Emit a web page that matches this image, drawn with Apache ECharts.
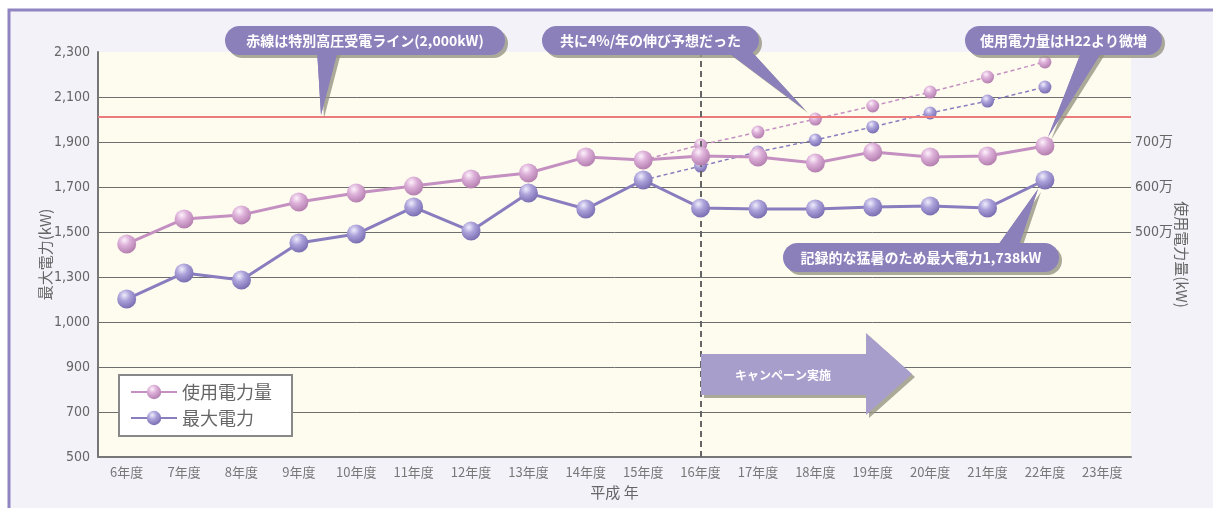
<!DOCTYPE html>
<html>
<head>
<meta charset="utf-8">
<script src="https://cdn.jsdelivr.net/npm/echarts@6/dist/echarts.min.js"></script>
<style>
  html, body { margin: 0; padding: 0; background: #fff; }
  #chart { width: 1213px; height: 508px; }
</style>
</head>
<body>
<div id="chart"></div>
<script>
// 年度 (平成)
var categories = ['6年度', '7年度', '8年度', '9年度', '10年度', '11年度', '12年度', '13年度', '14年度',
  '15年度', '16年度', '17年度', '18年度', '19年度', '20年度', '21年度', '22年度', '23年度'];

// 実績
var usage = [1447, 1558, 1576, 1633, 1673, 1704, 1736, 1762, 1833, 1820, 1838, 1833, 1807, 1856, 1833, 1838, 1882, null];
var peak = [1202, 1318, 1287, 1451, 1491, 1611, 1504, 1673, 1602, 1731, 1607, 1602, 1602, 1611, 1616, 1607, 1731, null];

// 4%/年の伸び予想
var usageForecast = [null, null, null, null, null, null, null, null, null, 1820, 1887, 1944, 2002, 2060, 2122, 2189, 2256, null];
var peakForecast = [null, null, null, null, null, null, null, null, null, 1731, 1793, 1856, 1909, 1967, 2029, 2082, 2144, null];

// 目盛ラベル (元図のまま)
var leftTicks = ['500', '700', '900', '1,000', '1,300', '1,500', '1,700', '1,900', '2,100', '2,300'];
var rightTicks = { 1500: '500万', 1700: '600万', 1900: '700万' };

var redLine = 2011;
var campaignStart = '16年度';

var PINK = '#c48fc1';
var PURPLE = '#897dbf';
var BOX = '#8c80bb';

function sphere(light, mid, dark) {
  return {
    type: 'radial', x: 0.38, y: 0.3, r: 0.75,
    colorStops: [
      { offset: 0, color: light },
      { offset: 0.4, color: mid },
      { offset: 1, color: dark }
    ]
  };
}
var pinkBall = sphere('#fdf1fb', '#dcafd8', '#b07aab');
var purpleBall = sphere('#efedfc', '#aca2da', '#7569ad');

var chart = echarts.init(document.getElementById('chart'));

var numFont = '"Liberation Sans Narrow", "DejaVu Sans Condensed", "Noto Sans CJK JP", sans-serif';
var jpFont = '"Noto Sans CJK JP", sans-serif';

chart.setOption({
  backgroundColor: '#fff',
  animation: false,
  grid: {
    left: 98, right: 82, top: 52, bottom: 51,
    outerBoundsMode: 'none',
    show: true, backgroundColor: '#fefcee', borderWidth: 0
  },
  legend: {
    data: ['使用電力量', '最大電力'],
    orient: 'vertical',
    left: 119, top: 375,
    padding: [8, 20, 9, 11],
    itemGap: 8,
    itemWidth: 46, itemHeight: 18,
    backgroundColor: '#fff',
    borderColor: '#888',
    borderWidth: 2,
    textStyle: { fontSize: 18, color: '#666', fontFamily: jpFont }
  },
  xAxis: {
    type: 'category',
    data: categories,
    boundaryGap: true,
    name: '平成 年',
    nameLocation: 'middle',
    nameGap: 28,
    nameMoveOverlap: false,
    nameTextStyle: { fontSize: 15, color: '#666', fontFamily: jpFont },
    axisLine: { lineStyle: { color: '#777', width: 2 } },
    axisTick: { inside: true, length: 4, lineStyle: { color: '#777' } },
    axisLabel: { color: '#777', fontSize: 13, fontFamily: jpFont, margin: 9 },
    splitLine: { show: false }
  },
  yAxis: [
    {
      type: 'value',
      min: 500, max: 2300, interval: 200,
      name: '最大電力(kW)',
      nameLocation: 'middle',
      nameGap: 45,
      nameMoveOverlap: false,
      nameTextStyle: { fontSize: 15, color: '#666', fontFamily: jpFont },
      axisLine: { show: true, lineStyle: { color: '#777', width: 2 } },
      axisTick: { show: false },
      axisLabel: {
        color: '#666', fontSize: 14, fontFamily: numFont, margin: 8,
        formatter: function (v) { return leftTicks[Math.round((v - 500) / 200)]; }
      },
      splitLine: { show: true, showMaxLine: false, showMinLine: false, lineStyle: { color: '#6e6e6e', width: 1 } }
    },
    {
      type: 'value',
      position: 'right',
      min: 500, max: 2300, interval: 200,
      name: '使用電力量(kW)',
      nameLocation: 'middle',
      nameRotate: -90,
      nameGap: 43,
      nameMoveOverlap: false,
      nameTextStyle: { fontSize: 15, color: '#666', fontFamily: jpFont },
      axisLine: { show: false },
      axisTick: { show: false },
      axisLabel: {
        color: '#666', fontSize: 14, fontFamily: numFont, margin: 4,
        formatter: function (v) { return rightTicks[v] || ''; }
      },
      splitLine: { show: false }
    }
  ],
  series: [
    {
      name: '使用電力量予想',
      type: 'line',
      data: usageForecast,
      symbol: 'circle',
      symbolSize: function (v, p) { return p.dataIndex === 9 ? 0 : 13; },
      lineStyle: { color: PINK, width: 1.5, type: [4, 3] },
      itemStyle: { color: pinkBall },
      z: 3,
      markLine: {
        silent: true,
        symbol: 'none',
        label: { show: false },
        data: [
          { yAxis: redLine, lineStyle: { color: '#ec7b7d', width: 2, type: 'solid' } },
          { xAxis: campaignStart, lineStyle: { color: '#666', width: 2, type: [6, 4] } }
        ]
      }
    },
    {
      name: '最大電力予想',
      type: 'line',
      data: peakForecast,
      symbol: 'circle',
      symbolSize: function (v, p) { return p.dataIndex === 9 ? 0 : 13; },
      lineStyle: { color: PURPLE, width: 1.5, type: [4, 3] },
      itemStyle: { color: purpleBall },
      z: 3
    },
    {
      name: '使用電力量',
      type: 'line',
      data: usage,
      symbol: 'circle',
      symbolSize: 19,
      lineStyle: { color: PINK, width: 3 },
      itemStyle: { color: pinkBall },
      z: 5
    },
    {
      name: '最大電力',
      type: 'line',
      data: peak,
      symbol: 'circle',
      symbolSize: 19,
      lineStyle: { color: PURPLE, width: 3 },
      itemStyle: { color: purpleBall },
      z: 5
    }
  ]
});

// 吹き出し・矢印・外枠
var shadow = { shadowColor: 'rgba(150,148,130,0.8)', shadowOffsetX: 3, shadowOffsetY: 3, shadowBlur: 0 };

function callout(x, y, w, h, base, tip, text) {
  return [
    {
      type: 'polygon', z: 20,
      shape: { points: [base[0], base[1], tip] },
      style: Object.assign({ fill: BOX }, shadow)
    },
    {
      type: 'rect', z: 21,
      shape: { x: x, y: y, width: w, height: h, r: h / 2 },
      style: Object.assign({ fill: BOX }, shadow)
    },
    {
      type: 'polygon', z: 22,
      shape: { points: [base[0], base[1], tip] },
      style: { fill: BOX }
    },
    {
      type: 'text', z: 23,
      x: x + w / 2, y: y + h / 2,
      style: {
        text: text, fill: '#fff', fontSize: 14, fontWeight: 'bold',
        fontFamily: jpFont, align: 'center', verticalAlign: 'middle'
      }
    }
  ];
}

var graphics = [
  {
    type: 'rect', z: -10, silent: true,
    shape: { x: 9, y: 10, width: 1220, height: 520 },
    style: { fill: '#f3f2f9', stroke: '#9084c2', lineWidth: 3 }
  }
];
graphics = graphics
  .concat(callout(225, 26, 280, 29, [[317, 50], [338, 50]], [321, 115], '赤線は特別高圧受電ライン(2,000kW)'))
  .concat(callout(542, 26, 217, 29, [[725, 50], [750, 50]], [805, 110], '共に4%/年の伸び予想だった'))
  .concat(callout(965, 26, 197, 29, [[1082, 50], [1103, 50]], [1048, 137], '使用電力量はH22より微増'))
  .concat(callout(783, 243, 276, 29, [[996, 248], [1018, 248]], [1038, 189], '記録的な猛暑のため最大電力1,738kW'));

graphics.push({
  type: 'polygon', z: 15,
  shape: { points: [[701, 354], [866, 354], [866, 333], [912, 374], [866, 415], [866, 395], [701, 395]] },
  style: Object.assign({ fill: '#a89ecc' }, shadow)
});
graphics.push({
  type: 'text', z: 16,
  x: 783, y: 375,
  style: {
    text: 'キャンペーン実施', fill: '#fff', fontSize: 12, fontWeight: 'bold',
    fontFamily: jpFont, align: 'center', verticalAlign: 'middle'
  }
});

chart.setOption({ graphic: graphics });
</script>
</body>
</html>
